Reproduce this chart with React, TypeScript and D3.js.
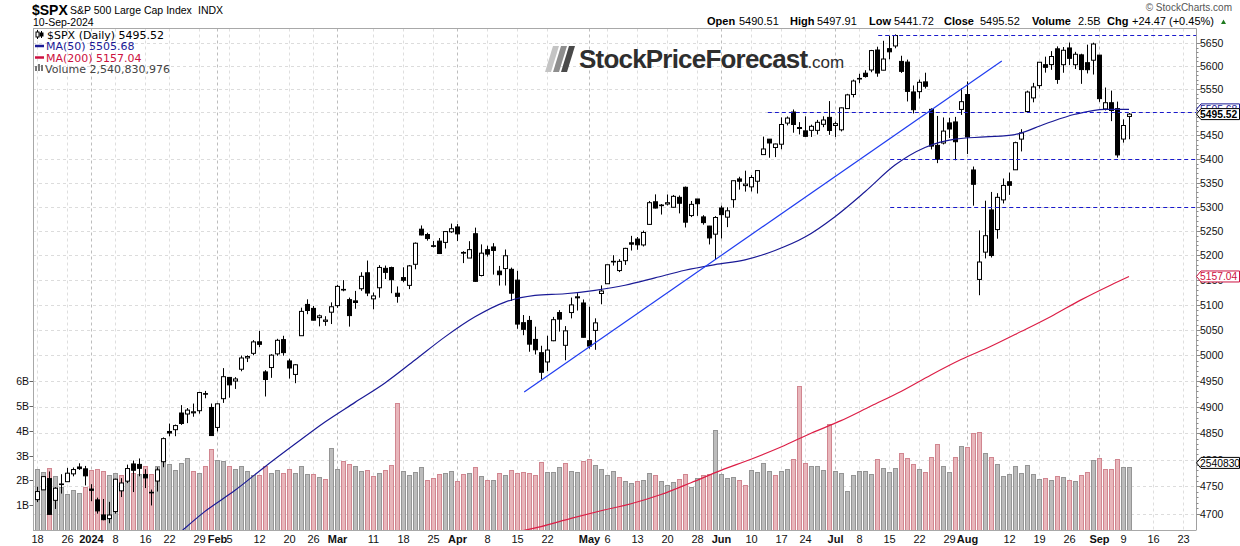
import React from "react";
import * as d3 from "d3";

// ---------- DATA ----------
const sessionDates = [
  "2023-12-15","2023-12-18","2023-12-19","2023-12-20","2023-12-21","2023-12-22","2023-12-26","2023-12-27","2023-12-28","2023-12-29",
  "2024-01-02","2024-01-03","2024-01-04","2024-01-05","2024-01-08","2024-01-09","2024-01-10","2024-01-11","2024-01-12","2024-01-16",
  "2024-01-17","2024-01-18","2024-01-19","2024-01-22","2024-01-23","2024-01-24","2024-01-25","2024-01-26","2024-01-29","2024-01-30",
  "2024-01-31","2024-02-01","2024-02-02","2024-02-05","2024-02-06","2024-02-07","2024-02-08","2024-02-09","2024-02-12","2024-02-13",
  "2024-02-14","2024-02-15","2024-02-16","2024-02-20","2024-02-21","2024-02-22","2024-02-23","2024-02-26","2024-02-27","2024-02-28",
  "2024-02-29","2024-03-01","2024-03-04","2024-03-05","2024-03-06","2024-03-07","2024-03-08","2024-03-11","2024-03-12","2024-03-13",
  "2024-03-14","2024-03-15","2024-03-18","2024-03-19","2024-03-20","2024-03-21","2024-03-22","2024-03-25","2024-03-26","2024-03-27",
  "2024-03-28","2024-04-01","2024-04-02","2024-04-03","2024-04-04","2024-04-05","2024-04-08","2024-04-09","2024-04-10","2024-04-11",
  "2024-04-12","2024-04-15","2024-04-16","2024-04-17","2024-04-18","2024-04-19","2024-04-22","2024-04-23","2024-04-24","2024-04-25",
  "2024-04-26","2024-04-29","2024-04-30","2024-05-01","2024-05-02","2024-05-03","2024-05-06","2024-05-07","2024-05-08","2024-05-09",
  "2024-05-10","2024-05-13","2024-05-14","2024-05-15","2024-05-16","2024-05-17","2024-05-20","2024-05-21","2024-05-22","2024-05-23",
  "2024-05-24","2024-05-28","2024-05-29","2024-05-30","2024-05-31","2024-06-03","2024-06-04","2024-06-05","2024-06-06","2024-06-07",
  "2024-06-10","2024-06-11","2024-06-12","2024-06-13","2024-06-14","2024-06-17","2024-06-18","2024-06-20","2024-06-21","2024-06-24",
  "2024-06-25","2024-06-26","2024-06-27","2024-06-28","2024-07-01","2024-07-02","2024-07-03","2024-07-05","2024-07-08","2024-07-09",
  "2024-07-10","2024-07-11","2024-07-12","2024-07-15","2024-07-16","2024-07-17","2024-07-18","2024-07-19","2024-07-22","2024-07-23",
  "2024-07-24","2024-07-25","2024-07-26","2024-07-29","2024-07-30","2024-07-31","2024-08-01","2024-08-02","2024-08-05","2024-08-06",
  "2024-08-07","2024-08-08","2024-08-09","2024-08-12","2024-08-13","2024-08-14","2024-08-15","2024-08-16","2024-08-19","2024-08-20",
  "2024-08-21","2024-08-22","2024-08-23","2024-08-26","2024-08-27","2024-08-28","2024-08-29","2024-08-30","2024-09-03","2024-09-04",
  "2024-09-05","2024-09-06","2024-09-09","2024-09-10",
];
const futureDates = [
  "2024-09-11","2024-09-12","2024-09-13","2024-09-16","2024-09-17","2024-09-18","2024-09-19","2024-09-20",
  "2024-09-23","2024-09-24","2024-09-25","2024-09-26","2024-09-27",
];

const opens = [
  4719.4,4725.6,4743.7,4764.7,4724.3,4753.9,4758.9,4773.5,4786.4,4782.9,
  4745.2,4725.1,4697.4,4690.6,4703.7,4741.9,4759.9,4792.1,4791.2,4772.4,
  4739.1,4760.1,4796.3,4853.4,4856.8,4888.6,4886.7,4888.9,4893.0,4925.9,
  4899.2,4861.1,4916.1,4957.2,4950.2,4973.1,4995.2,5004.2,5026.8,4967.9,
  4976.4,5003.1,5031.1,4989.3,4963.0,5038.8,5100.9,5093.0,5074.6,5067.2,
  5085.4,5098.5,5130.99,5110.5,5108.0,5132.4,5164.5,5112.0,5134.3,5173.5,
  5175.1,5123.3,5154.8,5139.1,5181.7,5253.4,5242.5,5219.5,5228.9,5226.3,
  5248.0,5258.0,5204.3,5194.4,5244.1,5159.0,5211.4,5217.0,5167.9,5173.0,
  5171.5,5149.7,5064.6,5069.0,5031.5,5005.4,4987.3,5028.9,5084.7,5019.9,
  5084.7,5114.1,5103.8,5029.0,5049.3,5122.8,5142.4,5187.2,5169.0,5189.0,
  5225.5,5233.1,5221.1,5263.3,5310.1,5303.1,5305.4,5298.7,5319.3,5340.3,
  5281.5,5315.9,5278.7,5259.8,5243.2,5297.2,5278.2,5314.5,5357.8,5343.8,
  5341.2,5353.0,5409.1,5441.9,5424.1,5431.1,5476.2,5500.0,5466.8,5459.6,
  5460.7,5460.7,5473.6,5488.5,5471.1,5461.8,5507.4,5537.9,5572.8,5584.2,
  5591.3,5635.2,5590.8,5638.2,5644.1,5610.1,5608.6,5543.4,5544.1,5565.3,
  5505.8,5428.7,5433.7,5476.6,5478.7,5505.6,5537.8,5376.6,5151.1,5206.4,
  5293.1,5252.6,5314.0,5351.9,5377.0,5442.0,5501.1,5530.5,5557.2,5602.9,
  5603.1,5637.8,5602.9,5639.7,5602.9,5624.5,5607.3,5612.7,5623.9,5506.7,
  5520.1,5507.3,5442.1,5490.51,
];
const highs = [
  4725.9,4749.5,4768.7,4778.0,4748.7,4772.9,4784.7,4785.4,4793.3,4788.4,
  4754.3,4729.3,4726.8,4721.5,4764.5,4765.5,4790.8,4798.5,4802.4,4782.3,
  4744.2,4785.8,4842.1,4868.4,4866.5,4903.7,4898.2,4906.7,4929.3,4931.1,
  4906.8,4907.0,4975.3,4957.2,4957.8,4999.9,5000.4,5030.1,5048.4,4971.3,
  5002.5,5032.7,5038.7,4993.7,4983.2,5094.4,5111.1,5097.7,5080.7,5077.4,
  5105.0,5140.3,5149.7,5114.6,5128.0,5165.6,5189.3,5124.7,5179.9,5179.1,
  5176.9,5136.9,5175.6,5180.3,5226.2,5261.1,5246.1,5229.1,5235.2,5249.3,
  5264.9,5264.0,5208.3,5228.8,5256.6,5222.2,5219.6,5224.8,5178.4,5211.8,
  5175.0,5168.4,5079.8,5078.0,5056.7,5019.0,5038.8,5076.1,5089.5,5057.8,
  5114.6,5123.5,5110.8,5096.1,5073.2,5139.1,5181.0,5200.2,5192.0,5215.3,
  5239.7,5237.3,5250.4,5311.8,5325.5,5305.5,5325.3,5324.3,5323.2,5341.9,
  5311.7,5315.9,5282.3,5260.2,5280.3,5302.1,5298.8,5354.2,5362.4,5375.1,
  5365.8,5376.0,5447.3,5441.9,5432.4,5488.5,5490.4,5505.5,5478.3,5490.7,
  5472.9,5483.1,5490.8,5523.6,5479.6,5509.7,5539.3,5570.3,5583.1,5590.8,
  5635.4,5642.5,5655.6,5666.9,5669.7,5622.5,5614.1,5557.5,5570.4,5585.3,
  5508.0,5491.6,5488.3,5487.7,5489.5,5551.5,5566.2,5383.9,5250.9,5312.3,
  5330.6,5328.0,5358.7,5371.2,5436.5,5463.2,5546.2,5563.1,5608.3,5620.5,
  5632.7,5643.2,5641.8,5651.6,5631.2,5627.0,5647.0,5651.4,5623.9,5553.0,
  5546.3,5522.5,5484.2,5497.91,
];
const lows = [
  4704.1,4721.0,4743.7,4697.8,4708.4,4736.8,4758.9,4768.9,4781.0,4752.0,
  4722.7,4699.7,4687.5,4682.1,4699.8,4730.4,4756.2,4739.6,4769.0,4747.1,
  4714.8,4740.6,4785.9,4844.1,4844.4,4865.9,4869.3,4881.5,4887.4,4916.9,
  4845.2,4853.5,4908.0,4918.1,4934.9,4969.1,4987.1,5000.3,5016.3,4920.3,
  4956.4,4999.4,4999.5,4955.0,4946.0,5038.8,5081.5,5068.9,5057.3,5058.4,
  5061.9,5094.2,5127.2,5056.8,5092.2,5128.2,5117.5,5091.1,5114.5,5151.9,
  5123.3,5104.4,5145.5,5131.6,5171.6,5240.7,5229.9,5216.1,5203.4,5213.9,
  5245.8,5229.2,5184.1,5194.4,5146.1,5157.2,5197.4,5160.8,5138.7,5138.8,
  5107.9,5052.5,5039.8,5007.3,5001.9,4953.6,4969.4,5028.0,5047.0,4990.6,
  5073.1,5088.7,5035.3,5013.5,5011.1,5101.2,5142.4,5179.0,5165.9,5180.4,
  5209.7,5211.2,5218.0,5263.3,5296.2,5283.6,5302.4,5297.9,5286.0,5256.9,
  5278.4,5280.9,5262.7,5222.1,5191.7,5234.3,5257.6,5297.6,5335.4,5331.3,
  5331.5,5327.3,5409.1,5402.5,5403.8,5420.4,5471.3,5455.6,5452.0,5446.3,
  5446.6,5451.9,5467.5,5451.1,5446.5,5458.4,5507.4,5531.6,5562.5,5574.6,
  5586.4,5576.5,5590.4,5614.8,5639.0,5584.8,5522.8,5497.0,5529.0,5550.9,
  5420.0,5391.0,5430.7,5444.4,5397.0,5493.8,5410.4,5302.0,5119.3,5193.6,
  5195.5,5233.9,5306.6,5324.4,5377.0,5415.8,5501.1,5520.9,5550.7,5585.5,
  5591.6,5561.0,5585.2,5602.3,5593.5,5561.0,5583.7,5581.3,5521.9,5503.4,
  5480.4,5402.6,5434.5,5441.72,
];
const closes = [
  4719.19,4740.56,4768.37,4698.35,4746.75,4754.63,4774.75,4781.58,4783.35,4769.83,
  4742.83,4704.81,4688.68,4697.24,4763.54,4756.50,4783.45,4780.24,4783.83,4765.98,
  4739.21,4780.94,4839.81,4850.43,4864.60,4868.55,4894.16,4890.97,4927.93,4924.97,
  4845.65,4906.19,4958.61,4942.81,4954.23,4995.06,4997.91,5026.61,5021.84,4953.17,
  5000.62,5029.73,5005.57,4975.51,4981.80,5087.03,5088.80,5069.53,5078.18,5069.76,
  5096.27,5137.08,5130.95,5078.65,5104.76,5157.36,5123.69,5117.94,5175.27,5165.31,
  5150.48,5117.09,5149.42,5178.51,5224.62,5241.53,5234.18,5218.19,5203.58,5248.49,
  5254.35,5243.77,5205.81,5211.49,5147.21,5204.34,5202.39,5209.91,5160.64,5199.06,
  5123.41,5061.82,5051.41,5022.21,5011.12,4967.23,5010.60,5070.55,5071.63,5048.42,
  5099.96,5116.17,5035.69,5018.39,5064.20,5127.79,5180.74,5187.70,5187.67,5214.08,
  5222.68,5221.42,5246.68,5308.15,5297.10,5303.27,5308.13,5321.41,5307.01,5267.84,
  5304.72,5306.04,5266.95,5235.48,5277.51,5283.40,5291.34,5354.03,5352.96,5346.99,
  5360.79,5375.32,5421.03,5433.74,5431.60,5473.23,5487.03,5473.17,5464.62,5447.87,
  5469.30,5477.90,5482.87,5460.48,5475.09,5509.01,5537.02,5567.19,5572.85,5576.98,
  5633.91,5584.54,5615.35,5631.22,5667.20,5588.27,5544.59,5505.00,5564.41,5555.74,
  5427.13,5399.22,5459.10,5463.54,5436.44,5522.30,5446.68,5346.56,5186.33,5240.03,
  5199.50,5319.31,5344.16,5344.39,5434.43,5455.21,5543.22,5554.25,5608.25,5597.12,
  5620.85,5570.64,5634.61,5616.84,5625.80,5592.18,5591.96,5648.40,5528.93,5520.07,
  5503.41,5408.42,5471.05,5495.52,
];
const priorClose = 4719.55;
// volume in billions of shares
const volumes = [
  5.57,2.44,2.32,2.48,2.16,1.72,1.44,1.60,1.48,1.72,
  2.42,2.44,2.36,2.20,2.28,2.20,2.35,2.28,2.24,2.58,
  2.26,2.58,2.78,2.65,2.42,2.68,2.88,2.36,2.28,2.56,
  3.25,2.81,2.78,2.56,2.44,2.56,2.36,2.22,2.22,2.58,
  2.28,2.42,2.28,2.44,2.28,2.56,2.24,2.24,2.12,2.04,
  3.29,2.44,2.78,2.65,2.56,2.36,2.40,2.16,2.28,2.40,
  2.60,5.10,2.36,2.20,2.32,2.52,2.00,2.08,2.24,2.28,
  2.36,1.96,2.24,2.28,2.52,2.16,2.00,2.00,2.28,2.20,
  2.40,2.28,2.32,2.28,2.20,2.72,2.32,2.32,2.52,2.68,
  2.36,2.32,2.76,2.84,2.60,2.44,2.20,2.36,2.12,1.96,
  1.88,1.96,2.00,2.28,2.20,1.96,1.80,1.92,2.04,2.24,
  1.72,2.08,2.20,2.24,4.01,2.24,2.08,2.12,2.00,1.80,
  2.40,2.32,2.68,2.36,2.20,2.36,2.44,2.84,5.79,2.68,
  2.56,2.56,2.40,4.26,2.36,2.28,1.56,2.20,2.36,2.36,
  2.24,2.84,2.48,2.32,2.48,3.09,2.88,2.64,2.44,2.32,
  2.93,3.45,2.56,2.32,2.93,3.37,3.33,3.89,3.93,3.09,
  2.93,2.64,2.16,2.24,2.56,2.28,2.60,2.24,2.04,2.08,
  2.00,2.16,2.12,2.00,1.96,2.20,2.32,2.81,2.88,2.44,
  2.44,2.84,2.52,2.540830976,
];

// moving averages, read at sample sessions (index into sessionDates)
const ma50At = [19,24,29,34,39,44,49,54,59,64,69,74,79,84,89,94,99,104,109,114,119,124,129,134,139,144,149,154,159,164,169,174,179,183];
const ma50Values = [4611.8,4657.3,4703.9,4742.8,4787.0,4829.6,4871.5,4909.0,4946.5,4991.0,5036.5,5076.2,5105.6,5118.9,5122.3,5129.2,5139.3,5154.2,5169.6,5181.0,5190.7,5209.8,5237.2,5279.2,5331.0,5387.0,5424.2,5442.0,5446.7,5451.7,5474.3,5495.2,5505.9,5505.68];
const ma200At = [80,85,90,95,100,105,110,115,120,125,130,135,140,145,150,155,160,165,170,175,180,183];
const ma200Values = [4664,4676,4691,4705,4718,4735,4757,4780,4801,4824,4850,4874,4902,4930,4962,4992,5018,5047,5077,5110,5140,5157.04];

// annotations
const trendAt = [82.2, 161.8];
const trendPrice = [4929, 5611];
const levelPrice = [5669, 5500, 5400, 5300];
const levelFrom = [141.2, 122.8, 143.2, 143.2];

// axes
const priceTicks = [4700,4750,4800,4850,4900,4950,5000,5050,5100,5150,5200,5250,5300,5350,5400,5450,5500,5550,5600,5650];
const volumeTicks = [1,2,3,4,5,6];
const xTickDates = ["2023-12-18","2023-12-26","2024-01-02","2024-01-08","2024-01-16","2024-01-22","2024-01-29","2024-02-01","2024-02-05","2024-02-12","2024-02-20","2024-02-26","2024-03-01","2024-03-11","2024-03-18","2024-03-25","2024-04-01","2024-04-08","2024-04-15","2024-04-22","2024-05-01","2024-05-06","2024-05-13","2024-05-20","2024-05-28","2024-06-03","2024-06-10","2024-06-17","2024-06-24","2024-07-01","2024-07-08","2024-07-15","2024-07-22","2024-07-29","2024-08-01","2024-08-12","2024-08-19","2024-08-26","2024-09-03","2024-09-09","2024-09-16","2024-09-23"];
const xTickLabels = ["18","26","2024","8","16","22","29","Feb","5","12","20","26","Mar","11","18","25","Apr","8","15","22","May","6","13","20","28","Jun","10","17","24","Jul","8","15","22","29","Aug","12","19","26","Sep","9","16","23"];
const boldTickLabels = ["2024","Feb","Mar","Apr","May","Jun","Jul","Aug","Sep"];

// ---------- LAYOUT ----------
const PL = 33, PR = 1196.5, PT = 28.5, PB = 530;
const AX = "Liberation Sans, Arial, sans-serif";
const LG = "DejaVu Sans, Verdana, sans-serif";

export default function App() {
  const allDates = sessionDates.concat(futureDates);
  const x = d3.scaleLinear().domain([0, 194.2]).range([31, 1196.2]);
  const y = d3.scaleLog().domain([4700, 5650]).range([513.5, 43.3]);
  const yv = d3.scaleLinear().domain([0, 6]).range([530, 381]);
  const n = closes.length;
  const last = n - 1;
  const f2 = d3.format(".2f");

  const ma50Line = d3.line<number>().x((d, i) => x(ma50At[i])).y((d) => y(d)).curve(d3.curveMonotoneX)(ma50Values) || "";
  const ma200Line = d3.line<number>().x((d, i) => x(ma200At[i])).y((d) => y(d)).curve(d3.curveMonotoneX)(ma200Values) || "";
  const trendLine = d3.line<number>().x((d, i) => x(trendAt[i])).y((d) => y(d))(trendPrice) || "";

  const xticks = xTickDates.map((d, i) => ({ p: allDates.indexOf(d), label: xTickLabels[i], bold: boldTickLabels.includes(xTickLabels[i]) }));

  const chg = closes[last] - closes[last - 1];
  const pct = (chg / closes[last - 1]) * 100;

  const box = (c: number, color: string, label: string, bold: boolean, key: string) => (
    <g key={key}>
      <path d={`M${PR},${c} L${PR + 4.5},${c - 5.5} L1239.5,${c - 5.5} L1239.5,${c + 5.5} L${PR + 4.5},${c + 5.5} Z`} fill="#fff" stroke={color} strokeWidth={1} />
      <text x={PR + 3.5} y={c + 3.8} fontFamily={AX} fontSize={10.3} fontWeight={bold ? "bold" : "normal"} fill={color}>{label}</text>
    </g>
  );

  const headerItems = [
    { t: "Open", x: 707, b: true }, { t: f2(opens[last]), x: 739, b: false },
    { t: "High", x: 790, b: true }, { t: f2(highs[last]), x: 817, b: false },
    { t: "Low", x: 869, b: true }, { t: f2(lows[last]), x: 894, b: false },
    { t: "Close", x: 944, b: true }, { t: f2(closes[last]), x: 980, b: false },
    { t: "Volume", x: 1032, b: true }, { t: d3.format(".1f")(volumes[last]) + "B", x: 1078, b: false },
    { t: "Chg", x: 1107, b: true }, { t: `+${f2(chg)} (+${f2(pct)}%)`, x: 1132, b: false },
  ];

  return (
    <svg width={1240} height={546} style={{ position: "fixed", left: 0, top: 0, background: "#fff" }}>
      <defs>
        <clipPath id="plotClip">
          <rect x={PL} y={PT} width={PR - PL} height={PB - PT} />
        </clipPath>
      </defs>
      <rect x={0} y={0} width={1240} height={546} fill="#fff" />

      {/* header */}
      <text x={32} y={15} fontFamily={AX} fontSize={14} fontWeight="bold" fill="#000">$SPX</text>
      <text x={70} y={14} fontFamily={AX} fontSize={10.5} fill="#000">S&amp;P 500 Large Cap Index</text>
      <text x={198} y={14} fontFamily={AX} fontSize={10.5} fill="#000">INDX</text>
      <text x={33} y={26} fontFamily={AX} fontSize={10.5} fill="#000">10-Sep-2024</text>
      <text x={1232} y={11} textAnchor="end" fontFamily={AX} fontSize={10} fill="#555">© StockCharts.com</text>
      {headerItems.map((h, i) => (
        <text key={"h" + i} x={h.x} y={25} fontFamily={AX} fontSize={11} fontWeight={h.b ? "bold" : "normal"} fill="#000">{h.t}</text>
      ))}
      <path d="M1221,24 L1226,24 L1223.5,19.5 Z" fill="#1f7a1f" />

      {/* plot background */}
      <rect x={PL} y={PT} width={PR - PL} height={PB - PT} fill="#fff" />

      {/* grid */}
      <g clipPath="url(#plotClip)">
        {priceTicks.map((t) => (
          <line key={"hg" + t} x1={PL} x2={PR} y1={Math.round(y(t)) + 0.5} y2={Math.round(y(t)) + 0.5} stroke="#dcdcdc" strokeDasharray="3,3" />
        ))}
        {xticks.map((t, i) => (
          <line key={"vg" + i} x1={Math.round(x(t.p)) + 0.5} x2={Math.round(x(t.p)) + 0.5} y1={PT} y2={PB} stroke={t.bold ? "#bdbdbd" : "#dedede"} strokeDasharray="3,3" />
        ))}
      </g>

      {/* volume */}
      <g clipPath="url(#plotClip)">
        {volumes.map((v, i) => {
          const prev = i === 0 ? priorClose : closes[i - 1];
          const down = closes[i] < prev;
          const cx = Math.round(x(i));
          const top = Math.round(yv(v)) + 0.5;
          return (
            <rect key={"v" + i} x={cx - 1.5} y={top} width={4} height={PB - top + 1}
              fill={down ? "#e8b6bb" : "#bcbcbc"} stroke={down ? "#d18690" : "#959595"} strokeWidth={1} />
          );
        })}
      </g>

      {/* candles */}
      <g clipPath="url(#plotClip)">
        {closes.map((c, i) => {
          const o = opens[i];
          const cx = Math.round(x(i));
          const top = y(Math.max(o, c));
          const bot = y(Math.min(o, c));
          const h = Math.max(bot - top, 0.6);
          return (
            <g key={"c" + i}>
              <line x1={cx + 0.5} x2={cx + 0.5} y1={y(highs[i])} y2={y(lows[i])} stroke="#000" strokeWidth={1} />
              <rect x={cx - 1.5} y={top} width={4} height={h} fill={c < o ? "#000" : "#fff"} stroke="#000" strokeWidth={1} />
            </g>
          );
        })}
      </g>

      {/* overlays */}
      <g clipPath="url(#plotClip)">
        <path d={ma200Line} fill="none" stroke="#dc1e46" strokeWidth={1.2} />
        <path d={ma50Line} fill="none" stroke="#1a1a96" strokeWidth={1.2} />
        <path d={trendLine} fill="none" stroke="#1f3cf0" strokeWidth={1.2} />
        {levelPrice.map((p, i) => (
          <line key={"lv" + i} x1={x(levelFrom[i])} x2={PR} y1={Math.round(y(p)) + 0.5} y2={Math.round(y(p)) + 0.5} stroke="#1a1acc" strokeWidth={1} strokeDasharray="4,3" />
        ))}
      </g>

      {/* frame */}
      <line x1={PL + 0.5} x2={PL + 0.5} y1={PT} y2={PB} stroke="#a8a8a8" />
      <line x1={PL} x2={PR} y1={PT} y2={PT} stroke="#a8a8a8" />
      <line x1={PL} x2={PR} y1={PB + 0.5} y2={PB + 0.5} stroke="#a8a8a8" />
      <line x1={PR} x2={PR} y1={PT} y2={PB} stroke="#a0a0a0" />

      {/* right price axis */}
      {d3.range(4700, 5660, 10).map((t) => (
        <line key={"mt" + t} x1={PR} x2={PR + (t % 50 === 0 ? 4 : 2)} y1={Math.round(y(t)) + 0.5} y2={Math.round(y(t)) + 0.5} stroke="#888" />
      ))}
      {priceTicks.map((t) => (
        <text key={"pl" + t} x={PR + 3.5} y={y(t) + 4} fontFamily={AX} fontSize={10.5} fill="#111">{t}</text>
      ))}

      {/* left volume axis */}
      {volumeTicks.map((t) => (
        <g key={"vt" + t}>
          <line x1={29.5} x2={PL} y1={Math.round(yv(t)) + 0.5} y2={Math.round(yv(t)) + 0.5} stroke="#666" />
          <text x={29} y={yv(t) + 4} textAnchor="end" fontFamily={AX} fontSize={10.5} fill="#111">{t}B</text>
        </g>
      ))}

      {/* x axis labels */}
      {xticks.map((t, i) => (
        <text key={"xl" + i} x={x(t.p) + 0.5} y={543} textAnchor="middle" fontFamily={AX} fontSize={11} fontWeight={t.bold ? "bold" : "normal"} fill="#111">{t.label}</text>
      ))}

      {/* right value boxes */}
      {box(y(ma50Values[ma50Values.length - 1]), "#1a1a96", f2(ma50Values[ma50Values.length - 1]), false, "b50")}
      {box(y(closes[last]), "#000", f2(closes[last]), true, "bc")}
      {box(y(ma200Values[ma200Values.length - 1]), "#cc1040", f2(ma200Values[ma200Values.length - 1]), false, "b200")}
      {box(yv(volumes[last]) - 4, "#000", String(Math.floor(volumes[last] * 1e6)), false, "bv")}

      {/* legend */}
      <g>
        <line x1={37.5} x2={37.5} y1={30} y2={39} stroke="#000" />
        <rect x={36} y={32} width={3} height={5} fill="#fff" stroke="#000" />
        <line x1={41.5} x2={41.5} y1={31} y2={38} stroke="#000" />
        <rect x={40} y={33} width={3} height={3} fill="#000" stroke="#000" />
        <text x={47} y={38.5} fontFamily={LG} fontSize={11} fill="#000">{`$SPX (Daily) ${f2(closes[last])}`}</text>
        <line x1={35} x2={44} y1={46} y2={46} stroke="#1a1a96" strokeWidth={2.5} />
        <text x={46} y={50} fontFamily={LG} fontSize={11} fill="#1a1a96">{`MA(50) ${f2(ma50Values[ma50Values.length - 1])}`}</text>
        <line x1={35} x2={44} y1={57.5} y2={57.5} stroke="#cc1040" strokeWidth={2.5} />
        <text x={46} y={61.5} fontFamily={LG} fontSize={11} fill="#cc1040">{`MA(200) ${f2(ma200Values[ma200Values.length - 1])}`}</text>
        <rect x={35} y={66} width={2} height={5} fill="#777" />
        <rect x={38} y={64} width={2} height={7} fill="#777" />
        <rect x={41} y={65} width={2} height={6} fill="#777" />
        <text x={45} y={72.5} fontFamily={LG} fontSize={11} fill="#444">{`Volume ${d3.format(",")(Math.round(volumes[last] * 1e9))}`}</text>
      </g>

      {/* watermark logo */}
      <g>
        <polygon points="545,72 551,72 559,46 553,46" fill="#c4c4c4" />
        <polygon points="553,72 559,72 567,46 561,46" fill="#8e8e8e" />
        <polygon points="561,72 567,72 575,46 569,46" fill="#4a4a4a" />
        <text x={579} y={68} fontFamily={AX} fontSize={26} fontWeight="bold" letterSpacing={-0.8} fill="#2e2e2e">
          StockPriceForecast<tspan fontSize={17} fontWeight="normal" letterSpacing={0}>.com</tspan>
        </text>
      </g>
    </svg>
  );
}
